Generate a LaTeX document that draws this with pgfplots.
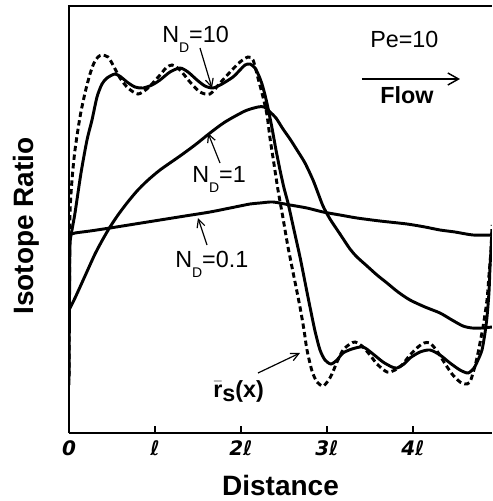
\documentclass[border=0pt]{standalone}
\usepackage{pgfplots}
\pgfplotsset{compat=1.18}
\usepackage{fontspec}
\setmainfont{Liberation Sans}
\newfontfamily\dejavu{DejaVu Sans}
\usetikzlibrary{arrows.meta}
\newcommand\ann{\fontsize{17.5}{20}\selectfont}
\newcommand\sub[1]{\raisebox{-7.5pt}{\fontsize{10.5}{10.5}\selectfont #1}}
\begin{document}
\begin{tikzpicture}
\begin{axis}[
  scale only axis, width=317.25pt, height=320.25pt,
  xmin=0, xmax=423, ymin=0, ymax=427,
  axis lines*=left,
  axis line style={line width=1.5pt},
  xtick={0,86,172,258,344},
  xticklabels={0,ℓ,2ℓ,3ℓ,4ℓ},
  xticklabel style={font=\dejavu\bfseries\itshape\fontsize{15}{15}\selectfont, yshift=-2pt},
  ytick=\empty,
  tick align=inside, major tick length=5pt, tick style={line width=0.8pt, black},
  xlabel={Distance}, ylabel={Isotope Ratio},
  label style={font=\bfseries\fontsize{21}{21}\selectfont},
  xlabel style={at={([yshift=-47pt]axis description cs:0.5,0)}, anchor=base},
  ylabel style={at={([xshift=-32pt]axis description cs:0,0.485)}, anchor=center},
  curve/.style={black, mark=none, line width=2.2pt, smooth, tension=0.45},
]
% N_D = 10
\addplot[curve] coordinates {
(0,53) (0.5,133) (1,188) (3,203) (6,220) (12,260) (18,293) (23,313) (28,336) (33,349) (38,355) (46,359) (52,356) (58,351) (66,346) (74,345) (83,348) (91,353) (101,361) (111,365) (119,361) (128,353) (136,347) (144,345) (153,349) (164,356) (171,363) (176,368) (181,369) (186,365) (190,357) (193,349) (196,338) (199,325) (203,305) (207,283) (211,263) (215,245) (219,230) (225,203) (231,176) (236,151) (241,126) (246,102) (251,83) (256,73) (262,69) (268,73) (274,80) (283,84) (294,86) (304,79) (314,71) (323,66) (328,65) (335,69) (341,75) (351,81) (361,83) (371,78) (381,70) (391,63) (399,60) (405,65) (409,73) (413,83) (416,100) (418,116) (420,141) (421,166) (422,183) (423,201)
};
% r_s(x) dashed
\addplot[curve, dash pattern=on 4pt off 2.5pt] coordinates {
(0,48) (0.5,143) (1,218) (3,253) (6,283) (11,316) (16,340) (21,359) (25,370) (29,376) (33,378) (39,376) (44,368) (51,355) (59,345) (69,339) (79,345) (91,358) (97,365) (103,368) (111,363) (121,351) (131,341) (141,339) (151,350) (163,363) (171,371) (179,376) (184,373) (189,355) (194,336) (198,318) (201,295) (205,269) (209,243) (214,215) (219,186) (225,156) (231,126) (235,103) (238,83) (243,62) (248,51) (254,47) (259,52) (263,59) (268,71) (274,83) (281,89) (286,91) (293,87) (301,78) (308,69) (318,61) (326,63) (333,68) (341,78) (349,86) (355,90) (361,90) (368,82) (375,71) (383,59) (391,51) (396,49) (401,51) (406,67) (409,80) (414,106) (418,133) (420,158) (422,183) (423,208)
};
% N_D = 1
\addplot[curve] coordinates {
(0,123) (6,135) (16,157) (26,179) (34,194) (41,206) (49,218) (58,230) (68,242) (78,252) (91,263) (111,277) (126,288) (141,300) (156,311) (176,322) (189,326) (195,326) (201,321) (207,315) (214,304) (221,294) (228,283) (236,270) (244,253) (249,240) (254,227) (261,214) (271,199) (281,184) (288,176) (298,167) (308,158) (318,150) (329,141) (341,133) (356,126) (371,120) (383,113) (394,107) (403,105) (413,105) (423,106)
};
% N_D = 0.1
\addplot[curve] coordinates {
(0,198) (6,200) (21,202) (41,205) (66,209) (91,213) (116,217) (141,221) (166,226) (181,229) (191,230) (204,231) (221,228) (238,225) (254,221) (271,218) (288,215) (311,212) (338,209) (356,206) (371,203) (386,201) (404,198) (423,198)
};
% annotations
\node[anchor=base west, font=\ann, inner sep=0pt] at (axis cs:93,391) {N\sub{D}=10};
\node[anchor=base west, font=\ann, inner sep=0pt] at (axis cs:123,251) {N\sub{D}=1};
\node[anchor=base west, font=\ann, inner sep=0pt] at (axis cs:106,166) {N\sub{D}=0.1};
\node[anchor=base west, font=\ann, inner sep=0pt] at (axis cs:301,386) {Pe=10};
\node[anchor=base west, font=\ann\bfseries, inner sep=0pt] at (axis cs:311,330) {Flow};
\node[anchor=base west, font=\ann\bfseries, inner sep=0pt] at (axis cs:144,36) {\ensuremath{\bar{\hbox{r}}}\raisebox{-3pt}{s}(x)};
\draw[line width=0.9pt, -{Straight Barb[length=6pt,width=6pt]}] (axis cs:131,385) -- (axis cs:143,345);
\draw[line width=0.9pt, -{Straight Barb[length=6pt,width=6pt]}] (axis cs:151,270) -- (axis cs:139,300);
\draw[line width=0.9pt, -{Straight Barb[length=6pt,width=6pt]}] (axis cs:138,188) -- (axis cs:129,215);
\draw[line width=0.9pt, -{Straight Barb[length=6pt,width=6pt]}] (axis cs:189,60) -- (axis cs:231,80);
\draw[line width=1.1pt, -{Straight Barb[length=8pt,width=9pt]}] (axis cs:293,354) -- (axis cs:391,354);
\coordinate (bl) at ([xshift=-51.75pt,yshift=-51pt]rel axis cs:0,0);
\coordinate (tr) at ([xshift=0.75pt,yshift=4.5pt]rel axis cs:1,1);
\coordinate (tl0) at (rel axis cs:0,1);
\coordinate (tr0) at (rel axis cs:1,1);
\end{axis}
\draw[line width=1.5pt] ([xshift=-0.75pt]tl0) -- (tr0);
\path (bl) rectangle (tr);
\end{tikzpicture}
\end{document}
